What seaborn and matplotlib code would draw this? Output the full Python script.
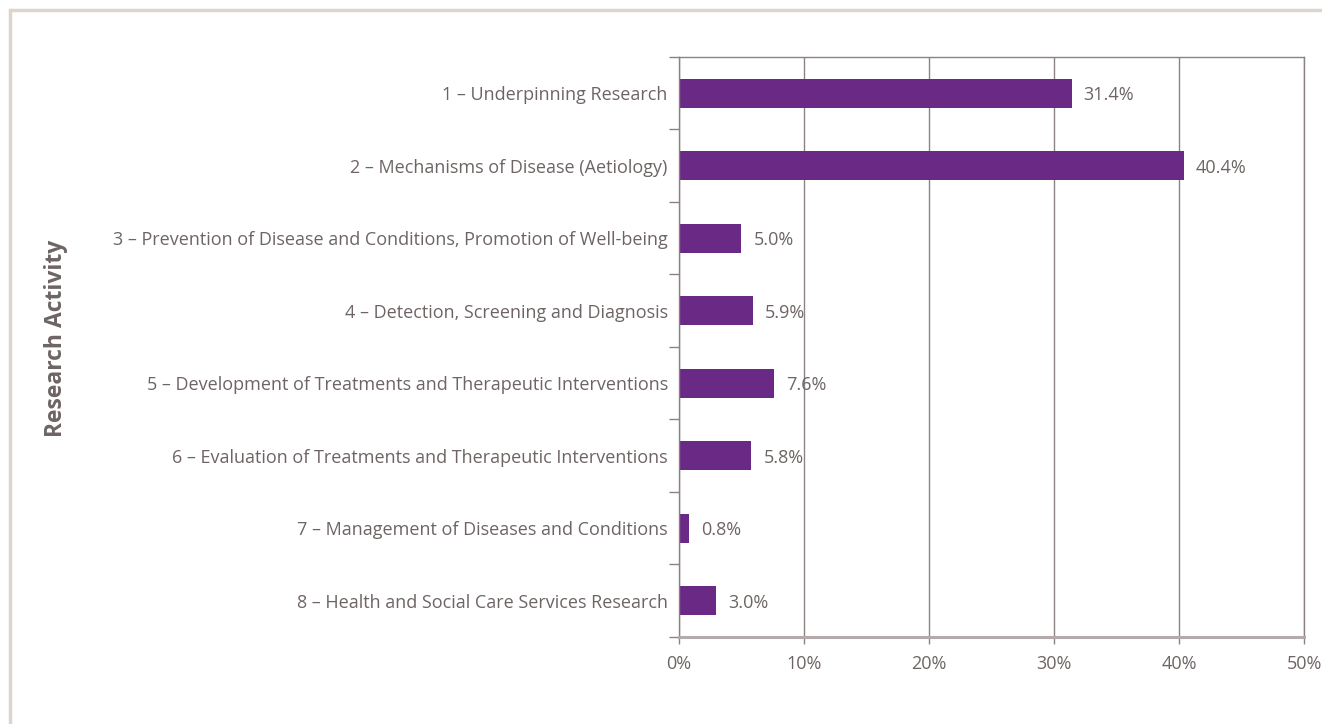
import matplotlib
matplotlib.use("Agg")
import matplotlib.pyplot as plt
from matplotlib.lines import Line2D
from matplotlib.ticker import FixedLocator, PercentFormatter
import numpy as np
import pandas as pd
import seaborn as sns

categories = [
    "1 – Underpinning Research",
    "2 – Mechanisms of Disease (Aetiology)",
    "3 – Prevention of Disease and Conditions, Promotion of Well-being",
    "4 – Detection, Screening and Diagnosis",
    "5 – Development of Treatments and Therapeutic Interventions",
    "6 – Evaluation of Treatments and Therapeutic Interventions",
    "7 – Management of Diseases and Conditions",
    "8 – Health and Social Care Services Research",
]
shares = [31.4, 40.4, 5.0, 5.9, 7.6, 5.8, 0.8, 3.0]
x_ticks = [0, 10, 20, 30, 40, 50]

BAR = "#6b2986"
TEXT = "#6e6464"
GRID = "#8c8282"
FRAME = "#ddd5cc"

sns.set_theme(style="white")
plt.rcParams["font.family"] = ["Open Sans", "DejaVu Sans"]

df = pd.DataFrame({"activity": categories, "share": shares})

fig = plt.figure(figsize=(13.22, 7.24), dpi=100)
ax = fig.add_axes([0.5136, 0.1202, 0.4728, 0.8011])

sns.barplot(data=df, y="activity", x="share", orient="h", color=BAR,
            saturation=1, width=0.4, ax=ax)
for p in ax.patches:
    p.set_edgecolor("none")

ax.set_xlim(0, 50)
ax.set_ylim(len(categories) - 0.5, -0.5)
ax.xaxis.set_major_locator(FixedLocator(x_ticks))
ax.xaxis.set_major_formatter(PercentFormatter(decimals=0))
ax.grid(axis="x", color=GRID, linewidth=1.0)
ax.grid(axis="y", visible=False)
ax.set_axisbelow(True)

for side in ["top", "right", "left"]:
    ax.spines[side].set_visible(True)
    ax.spines[side].set_color(GRID)
    ax.spines[side].set_linewidth(1.0)
ax.spines["bottom"].set_color("#b3abab")
ax.spines["bottom"].set_linewidth(2.2)

ax.set_yticks(np.arange(len(categories)))
ax.set_yticklabels(categories)
ax.set_yticks(np.arange(-0.5, len(categories)), minor=True)
ax.tick_params(axis="y", which="major", length=0, pad=8, labelsize=13, labelcolor=TEXT)
ax.tick_params(axis="y", which="minor", left=True, length=7, width=1.0, color=GRID)
ax.tick_params(axis="x", which="major", bottom=True, length=5, width=1.0, color=GRID,
               labelsize=13, labelcolor=TEXT, pad=8)

ax.set_xlabel("")
ax.set_ylabel("")

for i, v in enumerate(shares):
    ax.text(v + 0.95, i, f"{v:.1f}%", va="center_baseline", ha="left",
            fontsize=13, color=TEXT)

fig.text(0.042, 0.533, "Research Activity", rotation=90, ha="center", va="center",
         fontsize=16.5, fontweight="bold", color=TEXT)

# light outer frame along the left and top edges
fig.add_artist(Line2D([0.0075, 0.0075], [0.0, 0.9855], transform=fig.transFigure,
                      color=FRAME, linewidth=2.5))
fig.add_artist(Line2D([0.0075, 1.0], [0.9855, 0.9855], transform=fig.transFigure,
                      color=FRAME, linewidth=2.5))

fig.savefig("out.png", dpi=100, facecolor="white")
